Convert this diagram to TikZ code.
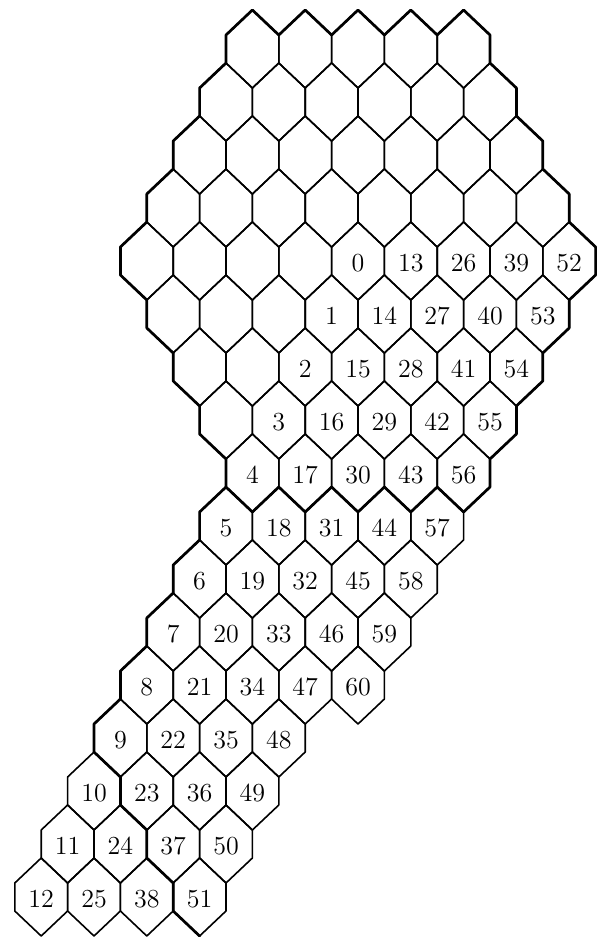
\documentclass[tikz,border=0pt]{standalone}
\usepackage{tikz}

\begin{document}
\begin{tikzpicture}[x=0.5pt, y=-0.5pt,
  cell/.style={draw=black, line width=0.8pt, line join=round},
  rim/.style={draw=black, line width=1.35pt, line join=round, line cap=round},
  num/.style={font=\fontsize{13}{15}\selectfont, inner sep=0pt}]
\useasboundingbox (0,0) rectangle (600,938);
\foreach \row/\cmin/\cmax in {-4/-4/0, -3/-4/1, -2/-4/2, -1/-4/3, 0/-4/4, 1/-3/4, 2/-2/4, 3/-1/4, 4/0/4, 5/0/4, 6/0/4, 7/0/4, 8/0/4, 9/0/3, 10/0/3, 11/0/3, 12/0/3}
  \foreach \col in {\cmin,...,\cmax} {
    \pgfmathtruncatemacro{\ii}{\col+4} \pgfmathtruncatemacro{\jj}{\row+4}
    \coordinate (h\ii-\jj) at ({358+52.8*(\col)-26.4*(\row)}, {261+53*(\row)});
    \draw[cell] (h\ii-\jj) ++(0,-39) -- ++(26.4,25) -- ++(0,28) -- ++(-26.4,25) -- ++(-26.4,-25) -- ++(0,-28) -- cycle;
  }
\foreach \col/\rmax in {0/12, 1/12, 2/12, 3/12, 4/8}
  \foreach \row in {0,...,\rmax} {
    \pgfmathtruncatemacro{\num}{13*\col+\row}
    \pgfmathtruncatemacro{\ii}{\col+4} \pgfmathtruncatemacro{\jj}{\row+4}
    \node[num] (n\num) at ([yshift=-1pt]h\ii-\jj) {\num};
  }
\draw[rim] ([shift={(-26.4,-14)}]h0-0)
  \foreach \k in {1,...,5} { -- ++(26.4,-25) -- ++(26.4,25) }
  \foreach \k in {1,...,4} { -- ++(0,28) -- ++(26.4,25) } -- ++(0,28)
  \foreach \k in {1,...,4} { -- ++(-26.4,25) -- ++(0,28) } -- ++(-26.4,25)
  \foreach \k in {1,...,4} { -- ++(-26.4,-25) -- ++(-26.4,25) } -- ++(-26.4,-25)
  \foreach \k in {1,...,4} { -- ++(0,-28) -- ++(-26.4,-25) } -- ++(0,-28)
  \foreach \k in {1,...,3} { -- ++(26.4,-25) -- ++(0,-28) } -- ++(26.4,-25) -- cycle;
\draw[rim] ([shift={(0,-39)}]h4-9)
  \foreach \k in {1,...,5} { -- ++(-26.4,25) -- ++(0,28) }
  \foreach \k in {1,...,3} { -- ++(26.4,25) -- ++(0,28) } -- ++(26.4,25);
\end{tikzpicture}
\end{document}
